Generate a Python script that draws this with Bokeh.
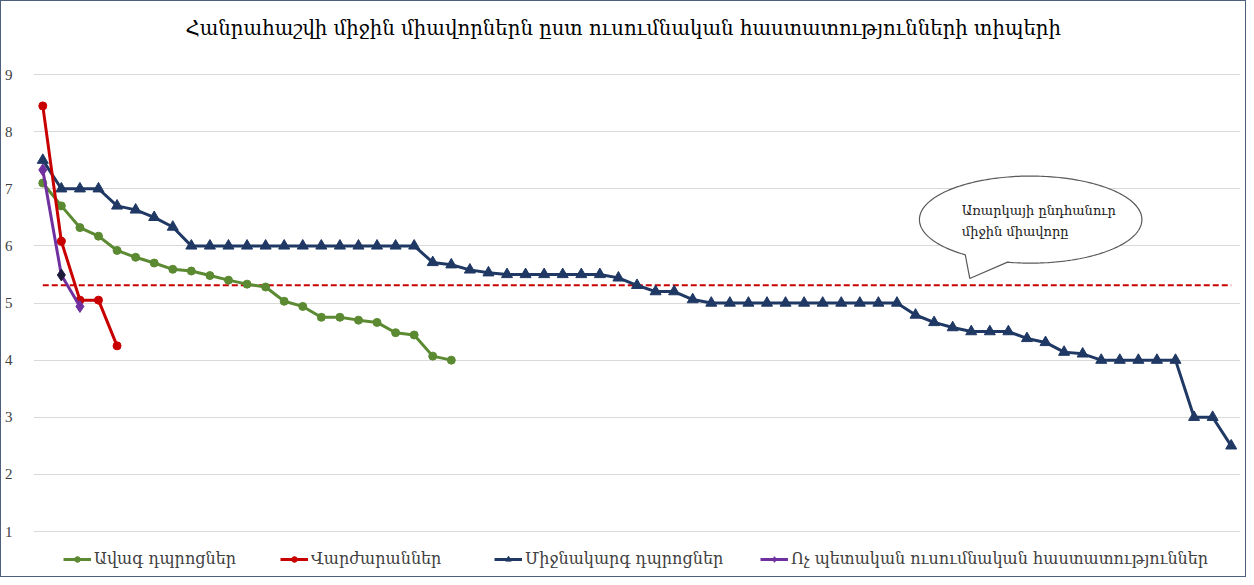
import numpy as np
from bokeh.plotting import figure
from bokeh.models import Range1d, FixedTicker, Legend, LegendItem, Label
from bokeh.embed import file_html
from bokeh.resources import INLINE
from bokeh.core.properties import value

# ---------------- data ----------------
title_text = "Հանրահաշվի միջին միավորներն ըստ ուսումնական  հաստատությունների տիպերի"
senior_label = "Ավագ դպրոցներ"
college_label = "Վարժարաններ"
secondary_label = "Միջնակարգ դպրոցներ"
private_label = "Ոչ պետական ուսումնական հաստատություններ"
callout_lines = ["Առարկայի ընդհանուր", "միջին միավորը"]

senior_scores = [7.10, 6.70, 6.32, 6.17, 5.92, 5.80, 5.70, 5.59, 5.56, 5.48,
                 5.40, 5.33, 5.28, 5.03, 4.94, 4.75, 4.75, 4.70, 4.66, 4.48,
                 4.44, 4.07, 4.00]
college_scores = [8.45, 6.08, 5.05, 5.05, 4.25]
secondary_scores = [7.50, 7.00, 7.00, 7.00, 6.70, 6.63, 6.50, 6.33,
                    6.00, 6.00, 6.00, 6.00, 6.00, 6.00, 6.00, 6.00, 6.00, 6.00, 6.00, 6.00, 6.00,
                    5.71, 5.67, 5.58, 5.53,
                    5.50, 5.50, 5.50, 5.50, 5.50, 5.50,
                    5.44, 5.31, 5.20, 5.20, 5.06,
                    5.00, 5.00, 5.00, 5.00, 5.00, 5.00, 5.00, 5.00, 5.00, 5.00, 5.00,
                    4.79, 4.66, 4.57, 4.50, 4.50, 4.50, 4.38, 4.31, 4.14, 4.11,
                    4.00, 4.00, 4.00, 4.00, 4.00,
                    3.00, 3.00, 2.50]
private_scores = [7.33, 5.49, 4.94]
subject_mean = 5.31
y_ticks = [1, 2, 3, 4, 5, 6, 7, 8, 9]

# ---------------- styles ----------------
GREEN = "#5B8A32"
RED = "#C80000"
NAVY = "#1F3864"
PURPLE = "#7030A0"
DARK = "#1E1A3C"
GRID = "#D9D9D9"
TXT = "#404040"
SERIF = "DejaVu Serif"

n_max = len(secondary_scores)
px_per_unit = 57.125
# frame covers the whole canvas height; the 9-gridline sits 73px below the top
y_top = 9 + 73 / px_per_unit
frame_h = 577
y_bot = y_top - frame_h / px_per_unit

p = figure(width=1246, height=577, output_backend="svg", toolbar_location=None,
           x_range=Range1d(0.5, n_max + 0.5), y_range=Range1d(y_bot, y_top),
           x_axis_type=None, min_border_left=29, min_border_right=7,
           min_border_top=0, min_border_bottom=0)
p.styles = {"border": "1px solid #4F5F7F", "box-sizing": "border-box"}
p.outline_line_color = None
p.background_fill_color = "white"
p.border_fill_color = "white"

# title (inside the top part of the frame, above the 9 gridline)
title_x = 1 + (631 - 46) / 18.615
title_y = 9 + (81 - 35) / px_per_unit
p.add_layout(Label(x=title_x, y=title_y, text=title_text, text_font=SERIF,
                   text_font_size="19.7px", text_color="#000000",
                   text_align="center", text_baseline="middle"))

p.yaxis.ticker = FixedTicker(ticks=y_ticks)
p.yaxis.axis_line_color = None
p.yaxis.major_tick_line_color = None
p.yaxis.minor_tick_line_color = None
p.yaxis.major_label_text_font = "Liberation Serif"
p.yaxis.major_label_text_font_size = "15px"
p.yaxis.major_label_text_color = TXT
p.yaxis.major_label_standoff = 15
p.ygrid.grid_line_color = GRID
p.ygrid.grid_line_width = 1
p.xgrid.grid_line_color = None

# mean dashed line
p.line(x=[1, n_max], y=[subject_mean, subject_mean], line_color=RED,
       line_width=2, line_dash="6 3")

def xs(vals):
    return list(range(1, len(vals) + 1))

g_l = p.line(xs(senior_scores), senior_scores, line_color=GREEN, line_width=3)
g_s = p.scatter(xs(senior_scores), senior_scores, marker="circle", size=8,
                fill_color=GREEN, line_color=GREEN)

b_l = p.line(xs(secondary_scores), secondary_scores, line_color=NAVY, line_width=3)
b_s = p.scatter(xs(secondary_scores), secondary_scores, marker="triangle", size=11,
                fill_color=NAVY, line_color=NAVY)

r_l = p.line(xs(college_scores), college_scores, line_color=RED, line_width=3)
r_s = p.scatter(xs(college_scores), college_scores, marker="circle", size=8,
                fill_color=RED, line_color=RED)

pr_colors = [PURPLE] * len(private_scores)
pr_colors[1] = DARK
v_l = p.line(xs(private_scores), private_scores, line_color=PURPLE, line_width=3)
v_s = p.scatter(xs(private_scores), private_scores, marker="diamond", size=12,
                fill_color=pr_colors, line_color=pr_colors)

# callout bubble
cx, cy, ca, cb = 54.2, 6.46, 5.99, 0.762
tip_x, tip_y = 50.92, 5.43
t = np.radians(np.linspace(258, 594, 240))
bx = list(cx + ca * np.cos(t)) + [tip_x]
by = list(cy + cb * np.sin(t)) + [tip_y]
p.patch(bx, by, fill_color="white", line_color="#595959", line_width=1.2)
p.text(x=[50.49, 50.49], y=[6.625, 6.25], text=callout_lines,
       text_font=value(SERIF), text_font_size="13px", text_color="#1A1A1A",
       text_baseline="middle", text_align="left")

# legends
leg_specs = [(senior_label, [g_l, g_s], 30), (college_label, [r_l, r_s], 247),
             (secondary_label, [b_l, b_s], 461), (private_label, [v_l, v_s], 727)]
for lab, rends, lx in leg_specs:
    lg = Legend(items=[LegendItem(label=lab, renderers=rends, index=0)], location=(lx, 10),
                orientation="horizontal", padding=0, margin=0, spacing=0,
                border_line_color=None, background_fill_alpha=0,
                glyph_width=28, glyph_height=14, label_standoff=3,
                label_text_font=SERIF, label_text_font_size="16px",
                label_text_color=TXT, label_height=16)
    p.add_layout(lg, "center")

open("out.html", "w").write(file_html(p, INLINE))
